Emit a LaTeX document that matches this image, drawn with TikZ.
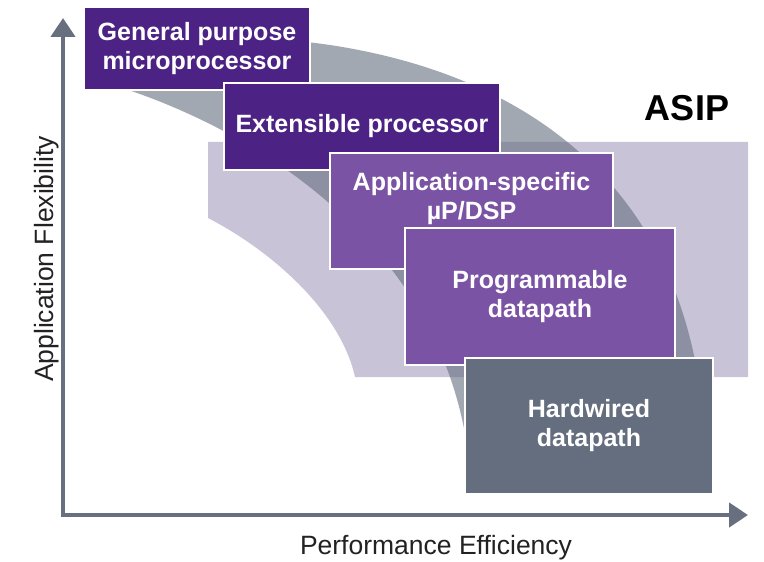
\documentclass[tikz,border=0pt]{standalone}
\usepackage{fontspec}
\setmainfont{Liberation Sans}
\usetikzlibrary{arrows.meta}
\definecolor{dkpurple}{HTML}{4C2384}
\definecolor{mdpurple}{HTML}{7B53A5}
\definecolor{slate}{HTML}{656E7E}
\definecolor{axisgray}{HTML}{687080}
\definecolor{lavender}{HTML}{C9C3D8}
\definecolor{txtdark}{HTML}{222222}
\tikzset{
  box/.style={draw=white, line width=1.5bp, inner sep=0pt},
  lbl/.style={text=white, align=center, inner sep=0pt, font=\fontsize{25bp}{29bp}\selectfont\bfseries},
  axislbl/.style={text=txtdark, inner sep=0pt, font=\fontsize{26.5bp}{30bp}\selectfont},
  axisline/.style={draw=axisgray, line width=4.5bp, line join=miter,
    {Triangle[width=24bp,length=19bp]}-{Triangle[width=24bp,length=19bp]}},
}
\begin{document}
\begin{tikzpicture}[x=1bp,y=-1bp]
\path[use as bounding box, fill=white] (0,0) rectangle (764,562);
% ASIP band
\fill[lavender] (208,142) -- (748,142) -- (748,377) -- (355,377)
  .. controls (340,310) and (270,250) .. (208,218) -- cycle;
% crescent
\fill[slate, fill opacity=0.6] (115,82) .. controls (180,30) and (260,35) .. (330,45)
  .. controls (560,80) and (710,220) .. (705,480) -- (470,470)
  .. controls (450,250) and (260,130) .. (110,84) -- cycle;
% boxes
\node[box, fill=dkpurple, minimum width=226bp, minimum height=83bp] (b1) at (197,48.5) {};
\node[box, fill=dkpurple, minimum width=276bp, minimum height=87bp] (b2) at (362,126.5) {};
\node[box, fill=mdpurple, minimum width=283bp, minimum height=116bp] (b3) at (471.5,211) {};
\node[box, fill=mdpurple, minimum width=270bp, minimum height=137bp] (b4) at (540,296.5) {};
\node[box, fill=slate, minimum width=248bp, minimum height=136bp] (b5) at (589,426) {};
% labels
\node[lbl] (l1) at (b1.center) {General purpose\\microprocessor};
\node[lbl] (l2) at (b2.center) {Extensible processor};
\node[lbl] (l3) at ([yshift=12bp]b3.center) {Application-specific\\µP/DSP};
\node[lbl] (l4) at (b4.center) {Programmable\\datapath};
\node[lbl] (l5) at (b5.center) {Hardwired\\datapath};
\node[anchor=base, inner sep=0pt, font=\fontsize{36bp}{40bp}\selectfont\bfseries] (asip) at (687,121) {ASIP};
% axes
\coordinate (ytip) at (63,18);
\coordinate (origin) at (63,515);
\coordinate (xtip) at (748,515);
\draw[axisline] (ytip) -- (origin) -- (xtip);
\node[axislbl, rotate=90, anchor=base] (ylab) at (53,259) {Application Flexibility};
\node[axislbl, anchor=base] (xlab) at (436,554) {Performance Efficiency};
\end{tikzpicture}
\end{document}
